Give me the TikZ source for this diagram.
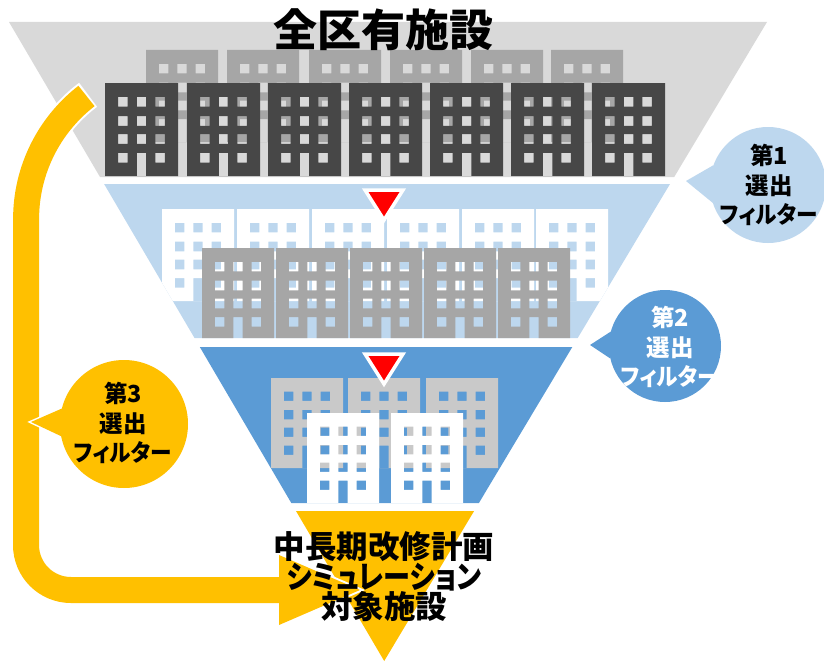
\documentclass[tikz,border=0pt]{standalone}
\usepackage{fontspec}
\newfontfamily\jp{Noto Sans CJK JP}[RawFeature=+palt]
\usetikzlibrary{calc}

\definecolor{bandgray}{HTML}{D9D9D9}
\definecolor{bldmid}{HTML}{A6A6A6}
\definecolor{blddark}{HTML}{474747}
\definecolor{bldlight}{HTML}{C9C9C9}
\definecolor{bandlblue}{HTML}{BDD7EE}
\definecolor{bandblue}{HTML}{5B9BD5}
\definecolor{funnelyellow}{HTML}{FFC000}
\definecolor{markred}{HTML}{FF0000}

% building icon: x, y (top left), width, height, colour
% windows and door are cut out, so whatever lies behind shows through
\newcommand\bldg[5]{%
  \pgfmathsetmacro\bxA{#1+0.18*#3}%
  \pgfmathsetmacro\bxB{#1+0.435*#3}%
  \pgfmathsetmacro\bxC{#1+0.69*#3}%
  \pgfmathsetmacro\byA{#2+0.15*#4}%
  \pgfmathsetmacro\byB{#2+0.355*#4}%
  \pgfmathsetmacro\byC{#2+0.55*#4}%
  \pgfmathsetmacro\byD{#2+0.75*#4}%
  \pgfmathsetmacro\byE{#2+#4}%
  \pgfmathsetmacro\bwW{0.13*#3}%
  \pgfmathsetmacro\bhH{0.105*#4}%
  \fill[#5,even odd rule] (#1,#2) rectangle ++(#3,#4)
    (\bxA,\byA) rectangle ++(\bwW,\bhH) (\bxB,\byA) rectangle ++(\bwW,\bhH) (\bxC,\byA) rectangle ++(\bwW,\bhH)
    (\bxA,\byB) rectangle ++(\bwW,\bhH) (\bxB,\byB) rectangle ++(\bwW,\bhH) (\bxC,\byB) rectangle ++(\bwW,\bhH)
    (\bxA,\byC) rectangle ++(\bwW,\bhH) (\bxB,\byC) rectangle ++(\bwW,\bhH) (\bxC,\byC) rectangle ++(\bwW,\bhH)
    (\bxA,\byD) rectangle ++(\bwW,\bhH) (\bxC,\byD) rectangle ++(\bwW,\bhH)
    (\bxB,\byD) rectangle (\bxB+\bwW,\byE);
}

% narrower kana lines
\newcommand\narrowkana[2]{{\addfontfeatures{FakeStretch=#1}#2}}

\tikzset{
  marker/.style={fill=markred, draw=white, line width=3.5, line join=miter},
  bubbletext/.style={align=center, font=\jp\bfseries\fontsize{23.5}{29.5}\selectfont, inner sep=0pt},
}

\begin{document}
\begin{tikzpicture}[x=1pt, y=-1pt]
\useasboundingbox (0,0) rectangle (824,661);

% ---- funnel bands ----
\fill[bandgray]  (9,22) -- (767,22) -- (674.2,177) -- (100,177) -- cycle;
\fill[bandlblue] (104.1,184) -- (670,184) -- (577.7,338) -- (194.5,338) -- cycle;
\fill[bandblue]  (199.8,347) -- (572.3,347) -- (478.9,503) -- (291.3,503) -- cycle;
\fill[funnelyellow] (296,511) -- (474.1,511) -- (384.2,661) -- cycle;

% ---- buildings, band 1 ----
\begin{scope}
  \clip (9,22) -- (767,22) -- (674.2,177) -- (100,177) -- cycle;
  \foreach \x in {146,227,309,390,471,551} {\bldg{\x}{50}{72}{92}{bldmid}}
  \foreach \x in {105,187,268,349,430,511,592} {\bldg{\x}{83}{73}{93}{blddark}}
\end{scope}

% ---- buildings, band 2 ----
\begin{scope}
  \clip (104.1,184) -- (670,184) -- (577.7,338) -- (194.5,338) -- cycle;
  \foreach \x in {162,237,312,387,462,536} {\bldg{\x}{209}{72}{92}{white}}
  \foreach \x in {202,276,350,424,498} {\bldg{\x}{248}{72}{92}{bldmid}}
\end{scope}

% ---- buildings, band 3 ----
\begin{scope}
  \clip (199.8,347) -- (572.3,347) -- (478.9,503) -- (291.3,503) -- cycle;
  \foreach \x in {271,348,426} {\bldg{\x}{378}{72}{90}{bldlight}}
  \foreach \x in {307,391} {\bldg{\x}{413}{72}{90}{white}}
\end{scope}

% ---- red step markers ----
\path[marker] (365,190) -- (403,190) -- (384,220) -- cycle;
\path[marker] (365,354) -- (403,354) -- (384,384) -- cycle;

% ---- third filter: curved yellow arrow ----
\coordinate (arrowstart) at (86.5,96);
\coordinate (arrowbase) at (279,590);
\coordinate (arrowtip) at (360,590);
\draw[white, line width=30] (88.1,94.8) -- (arrowstart) arc[start angle=232.3, end angle=180, radius=155.5]
  -- (26,545) arc[start angle=180, end angle=90, radius=45] -- (arrowbase);
\draw[white, line width=4, line join=miter] (279,555) -- (arrowtip) -- (279,625) -- cycle;
\draw[funnelyellow, line width=26] (arrowstart) arc[start angle=232.3, end angle=180, radius=155.5]
  -- (26,545) arc[start angle=180, end angle=90, radius=45] -- (282,590);
\fill[funnelyellow] (279,555) -- (arrowtip) -- (279,625) -- cycle;

% ---- callouts ----
\coordinate (c1) at (768,185);
\coordinate (c2) at (665,346);
\coordinate (c3) at (124,424);
\coordinate (tip1) at (686,181);
\coordinate (tip2) at (590,345);
\coordinate (tip3) at (31,422);

\draw[white, line width=3] (c1) circle[radius=58] (tip1) -- ($(c1)+(200:58)$) -- ($(c1)+(162:58)$) -- cycle;
\fill[bandlblue] (c1) circle[radius=58];
\fill[bandlblue] (tip1) -- ($(c1)+(200:58)$) -- ($(c1)+(162:58)$) -- cycle;

\draw[white, line width=3] (c2) circle[radius=56] (tip2) -- ($(c2)+(195:56)$) -- ($(c2)+(167:56)$) -- cycle;
\fill[bandblue] (c2) circle[radius=56];
\fill[bandblue] (tip2) -- ($(c2)+(195:56)$) -- ($(c2)+(167:56)$) -- cycle;

\draw[white, line width=3] (c3) circle[radius=64] (tip3) -- ($(c3)+(194:64)$) -- ($(c3)+(169:64)$) -- cycle;
\fill[funnelyellow] (c3) circle[radius=64];
\fill[funnelyellow] (tip3) -- ($(c3)+(194:64)$) -- ($(c3)+(169:64)$) -- cycle;

\node[bubbletext, text=black] (f1) at (769,185) {第1\\選出\\\narrowkana{0.92}{フィルター}};
\node[bubbletext, text=white] (f2) at (670,347) {第2\\選出\\\narrowkana{0.92}{フィルター}};
\node[bubbletext, text=black] (f3) at (123,423) {第3\\選出\\\narrowkana{0.92}{フィルター}};

% ---- titles ----
\node[font=\jp\bfseries\fontsize{44}{48}\selectfont, inner sep=0pt] (title) at (383,30) {全区有施設};
\node[align=center, font=\jp\bfseries\fontsize{31.5}{30}\selectfont, inner sep=0pt] (target) at (384,577)
  {中長期改修計画\\\narrowkana{0.86}{シミュレーション}\\対象施設};
\end{tikzpicture}
\end{document}
